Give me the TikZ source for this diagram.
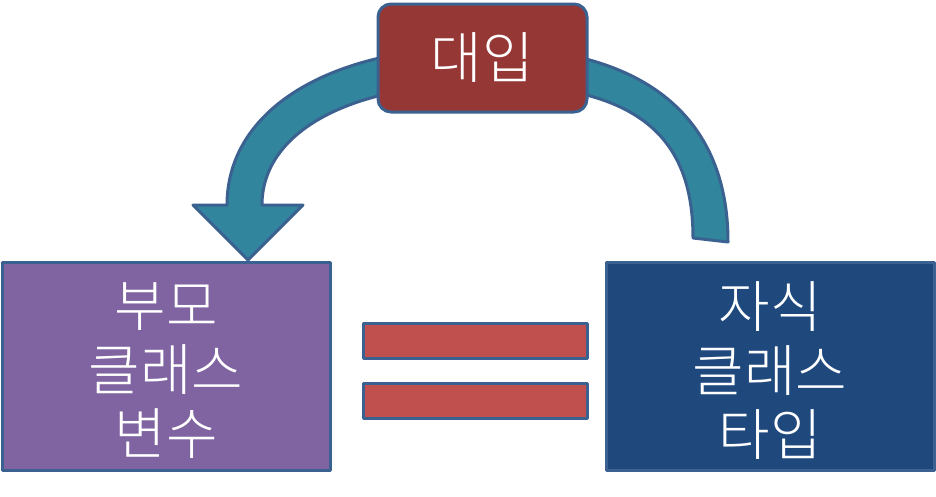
\documentclass[tikz,border=0pt]{standalone}
\usepackage{fontspec}
\IfFontExistsTF{Noto Sans CJK KR Light}
  {\newfontfamily\kr{Noto Sans CJK KR Light}}
  {\newfontfamily\kr{Noto Sans CJK KR}}
\definecolor{outline}{HTML}{3B6190}
\definecolor{parentfill}{HTML}{8064A2}
\definecolor{childfill}{HTML}{1F497D}
\definecolor{assignfill}{HTML}{953735}
\definecolor{arrowfill}{HTML}{31859C}
\definecolor{barfill}{HTML}{C0504D}

\begin{document}
\begin{tikzpicture}[x=1pt,y=-1pt,
    shapeline/.style={draw=outline,line width=3pt,line join=round},
    classbox/.style={shapeline,minimum width=328pt,minimum height=208pt,inner sep=0pt},
    classtext/.style={inner sep=0pt,align=center,text=white,font=\kr\fontsize{56}{64}\selectfont},
    eqbar/.style={shapeline,fill=barfill,minimum width=224pt,minimum height=35pt,inner sep=0pt}]
      \useasboundingbox (0,0) rectangle (936,496);
      % curved block arrow
      \draw[shapeline,fill=arrowfill]
      (728,242) .. controls (728,115) and (642,47) .. (483,47)
      .. controls (329,47) and (227,110) .. (227,205)
      -- (193,205) -- (248,260) -- (303,205) -- (262,205)
      .. controls (262,132) and (350,84) .. (483,84)
      .. controls (630,84) and (693,130) .. (693,238) -- cycle;
      \node[shapeline,classtext,fill=assignfill,rounded corners=13pt,minimum width=209pt,
        minimum height=108pt] (assign) at (482.5,58) {대입};
      \node[classbox,fill=parentfill] (parent) at (166,366) {};
      \node[classbox,fill=childfill] (child) at (770,366) {};
      \node[classtext] (parenttext) at ([yshift=-5pt]parent.center) {부모\\클래스\\변수};
      \node[classtext] (childtext) at ([yshift=-5pt]child.center) {자식\\클래스\\타입};
      \node[eqbar] (eqtop) at (475,340.5) {};
      \node[eqbar] (eqbot) at (475,400.5) {};
\end{tikzpicture}
\end{document}
